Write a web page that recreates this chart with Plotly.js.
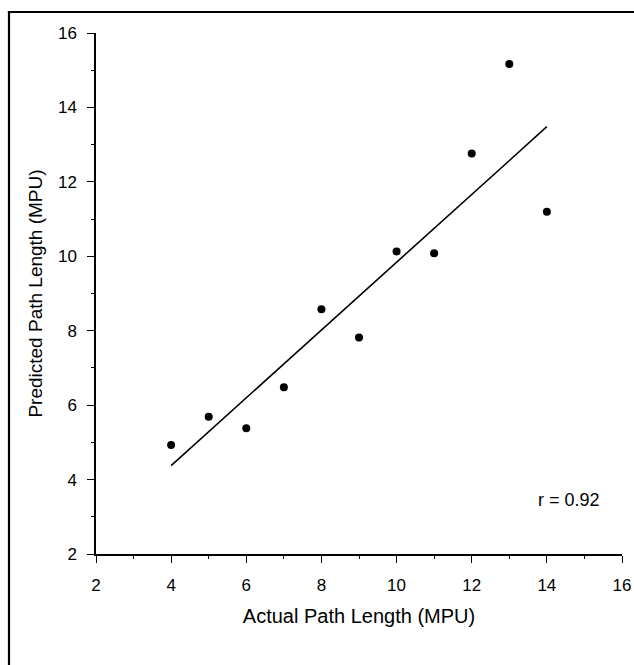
<!DOCTYPE html>
<html>
<head>
<meta charset="utf-8">
<script src="https://cdn.plot.ly/plotly-3.0.1.min.js"></script>
<style>
html,body{margin:0;padding:0;background:#fff;}
#chart{width:634px;height:665px;}
</style>
</head>
<body>
<div id="chart"></div>
<script>
// Data
var actualLength = [4, 5, 6, 7, 8, 9, 10, 11, 12, 13, 14];
var predictedLength = [4.93, 5.69, 5.38, 6.48, 8.58, 7.82, 10.13, 10.08, 12.76, 15.17, 11.2];
var tickValues = [2, 4, 6, 8, 10, 12, 14, 16];
var xTitle = 'Actual Path Length (MPU)';
var yTitle = 'Predicted Path Length (MPU)';
var rLabel = 'r = 0.92';

// Least-squares regression line computed from the data
var n = actualLength.length;
var mx = actualLength.reduce(function(a,b){return a+b;},0)/n;
var my = predictedLength.reduce(function(a,b){return a+b;},0)/n;
var sxy = 0, sxx = 0;
for (var i=0;i<n;i++){ sxy += (actualLength[i]-mx)*(predictedLength[i]-my); sxx += (actualLength[i]-mx)*(actualLength[i]-mx); }
var slope = sxy/sxx, intercept = my - slope*mx;
var xmin = Math.min.apply(null, actualLength), xmax = Math.max.apply(null, actualLength);
var fitX = [xmin, xmax];
var fitY = fitX.map(function(x){return intercept + slope*x;});

var font = 'Liberation Sans, Arial, sans-serif';

var traces = [
  {x: fitX, y: fitY, mode: 'lines', type: 'scatter', line: {color: '#000', width: 1.6}, hoverinfo: 'skip'},
  {x: actualLength, y: predictedLength, mode: 'markers', type: 'scatter', marker: {color: '#000', size: 8}}
];

var axisCommon = {
  range: [2, 16],
  tickvals: tickValues,
  ticks: 'outside',
  ticklen: 7,
  tickwidth: 1,
  tickcolor: '#000',
  showline: true,
  linecolor: '#000',
  linewidth: 1.6,
  showgrid: false,
  zeroline: false,
  tickfont: {family: font, size: 17, color: '#000'},
  minor: {dtick: 1, tick0: 2, ticks: 'outside', ticklen: 3, tickcolor: '#000', tickwidth: 1, showgrid: false}
};

var layout = {
  width: 634, height: 665,
  margin: {l: 96, r: 12, t: 33, b: 111},
  paper_bgcolor: '#fff', plot_bgcolor: '#fff',
  showlegend: false,
  xaxis: Object.assign({}, axisCommon, {
    ticklabelstandoff: 8,
    title: {text: xTitle, font: {family: font, size: 20, color: '#000'}, standoff: 15}
  }),
  yaxis: Object.assign({}, axisCommon, {
    ticklabelstandoff: 7,
    title: {text: yTitle, font: {family: font, size: 19, color: '#000'}, standoff: 10}
  }),
  annotations: [{
    text: rLabel, x: 14.59, y: 3.45, xref: 'x', yref: 'y', showarrow: false,
    font: {family: font, size: 18, color: '#000'}
  }],
  shapes: [
    {type: 'line', xref: 'paper', yref: 'paper', x0: -0.1654, x1: -0.1654, y0: -0.25, y1: 1.0413, line: {color: '#000', width: 2.2}},
    {type: 'line', xref: 'paper', yref: 'paper', x0: -0.1675, x1: 1.05, y0: 1.0403, y1: 1.0403, line: {color: '#000', width: 2.2}}
  ]
};

Plotly.newPlot('chart', traces, layout, {displayModeBar: false, staticPlot: true});
</script>
</body>
</html>
